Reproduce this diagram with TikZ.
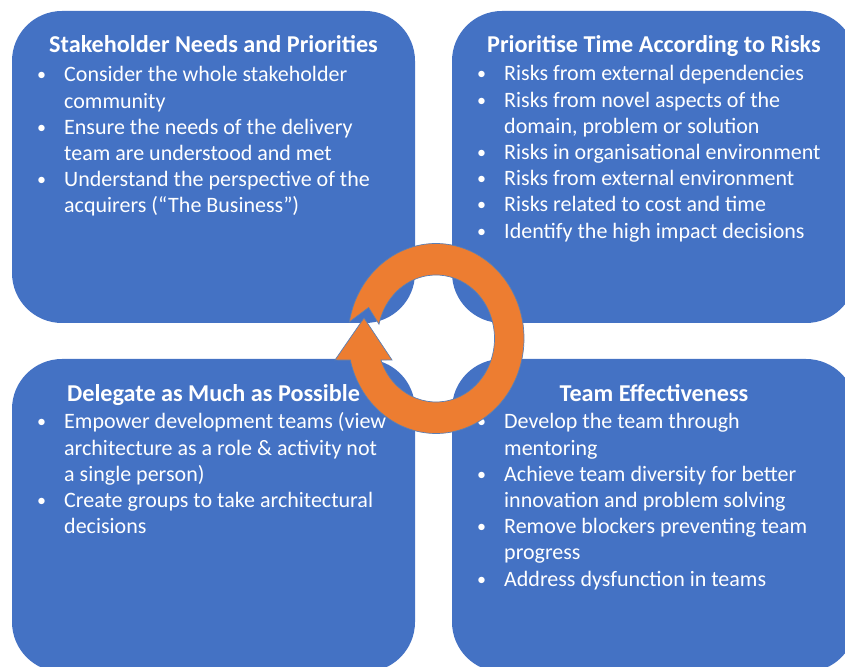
\documentclass[tikz,border=0pt]{standalone}
\usepackage{fontspec}
\setmainfont{Carlito}
\usetikzlibrary{positioning}
\definecolor{quadblue}{HTML}{4472C4}
\definecolor{cycleorange}{HTML}{ED7D31}
\definecolor{cycleedge}{HTML}{5A7FB5}
\newcommand{\itm}{\makebox[27pt][l]{\raisebox{1pt}{\fontsize{18}{18}\selectfont\textbullet}}}
\newcommand{\ind}{\hspace*{27pt}}

\tikzset{
  quad/.style={fill=quadblue, rounded corners=50pt, inner sep=0pt},
  heading/.style={text=white, font=\fontsize{24.2}{26.2}\selectfont\bfseries, anchor=base, inner sep=0pt},
  % multi-line nodes sit on the baseline of their last line
  points/.style={text=white, font=\fontsize{22}{26.2}\selectfont, align=left, anchor=base west, inner sep=0pt},
  cyclearrow/.style={fill=cycleorange, draw=cycleedge, line width=0.7pt}
}

\begin{document}
\begin{tikzpicture}[x=1pt, y=1pt]
\useasboundingbox (0,0) rectangle (845,666);

% the four quadrants
\node[quad, minimum width=403pt, minimum height=312pt] (stake) at (213.5,499) {};
\node[quad, minimum width=404pt, minimum height=312pt] (risks) at (654,499) {};
\node[quad, minimum width=403pt, minimum height=313pt] (deleg) at (213.5,150.5) {};
\node[quad, minimum width=404pt, minimum height=313pt] (team) at (654,150.5) {};

% headings
\node[heading] (stake-t) at (213.5,613) {Stakeholder Needs and Priorities};
\node[heading] (risks-t) at (654,613) {Prioritise Time According to Risks};
\node[heading] (deleg-t) at (213.5,264) {Delegate as Much as Possible};
\node[heading] (team-t) at (654,264) {Team Effectiveness};

% bullet points
\node[points] (stake-p) at (37,453) {\itm Consider the whole stakeholder\\
  \ind community\\
  \itm Ensure the needs of the delivery\\
  \ind team are understood and met\\
  \itm Understand the perspective of the\\
  \ind acquirers (“The Business”)};
\node[points] (risks-p) at (477,427.8) {\itm Risks from external dependencies\\
  \itm Risks from novel aspects of the\\
  \ind domain, problem or solution\\
  \itm Risks in organisational environment\\
  \itm Risks from external environment\\
  \itm Risks related to cost and time\\
  \itm Identify the high impact decisions};
\node[points] (deleg-p) at (37,132.2) {\itm Empower development teams (view\\
  \ind architecture as a role \& activity not\\
  \ind a single person)\\
  \itm Create groups to take architectural\\
  \ind decisions};
\node[points] (team-p) at (477,79.8) {\itm Develop the team through\\
  \ind mentoring\\
  \itm Achieve team diversity for better\\
  \ind innovation and problem solving\\
  \itm Remove blockers preventing team\\
  \ind progress\\
  \itm Address dysfunction in teams};

% circular arrow in the middle
\coordinate (ringc) at (436,327.5);
\filldraw[cyclearrow] ([shift={(170:88 and 95)}]ringc)
  arc[start angle=170, end angle=-166.9, x radius=88, y radius=95]
  -- (335,306) -- (364,348) -- (392,306)
  -- ([shift={(-160.2:58.5 and 63.5)}]ringc)
  arc[start angle=-160.2, end angle=167, x radius=58.5, y radius=63.5]
  -- ([shift={(157:73.25 and 79.25)}]ringc) -- cycle;
\end{tikzpicture}
\end{document}
